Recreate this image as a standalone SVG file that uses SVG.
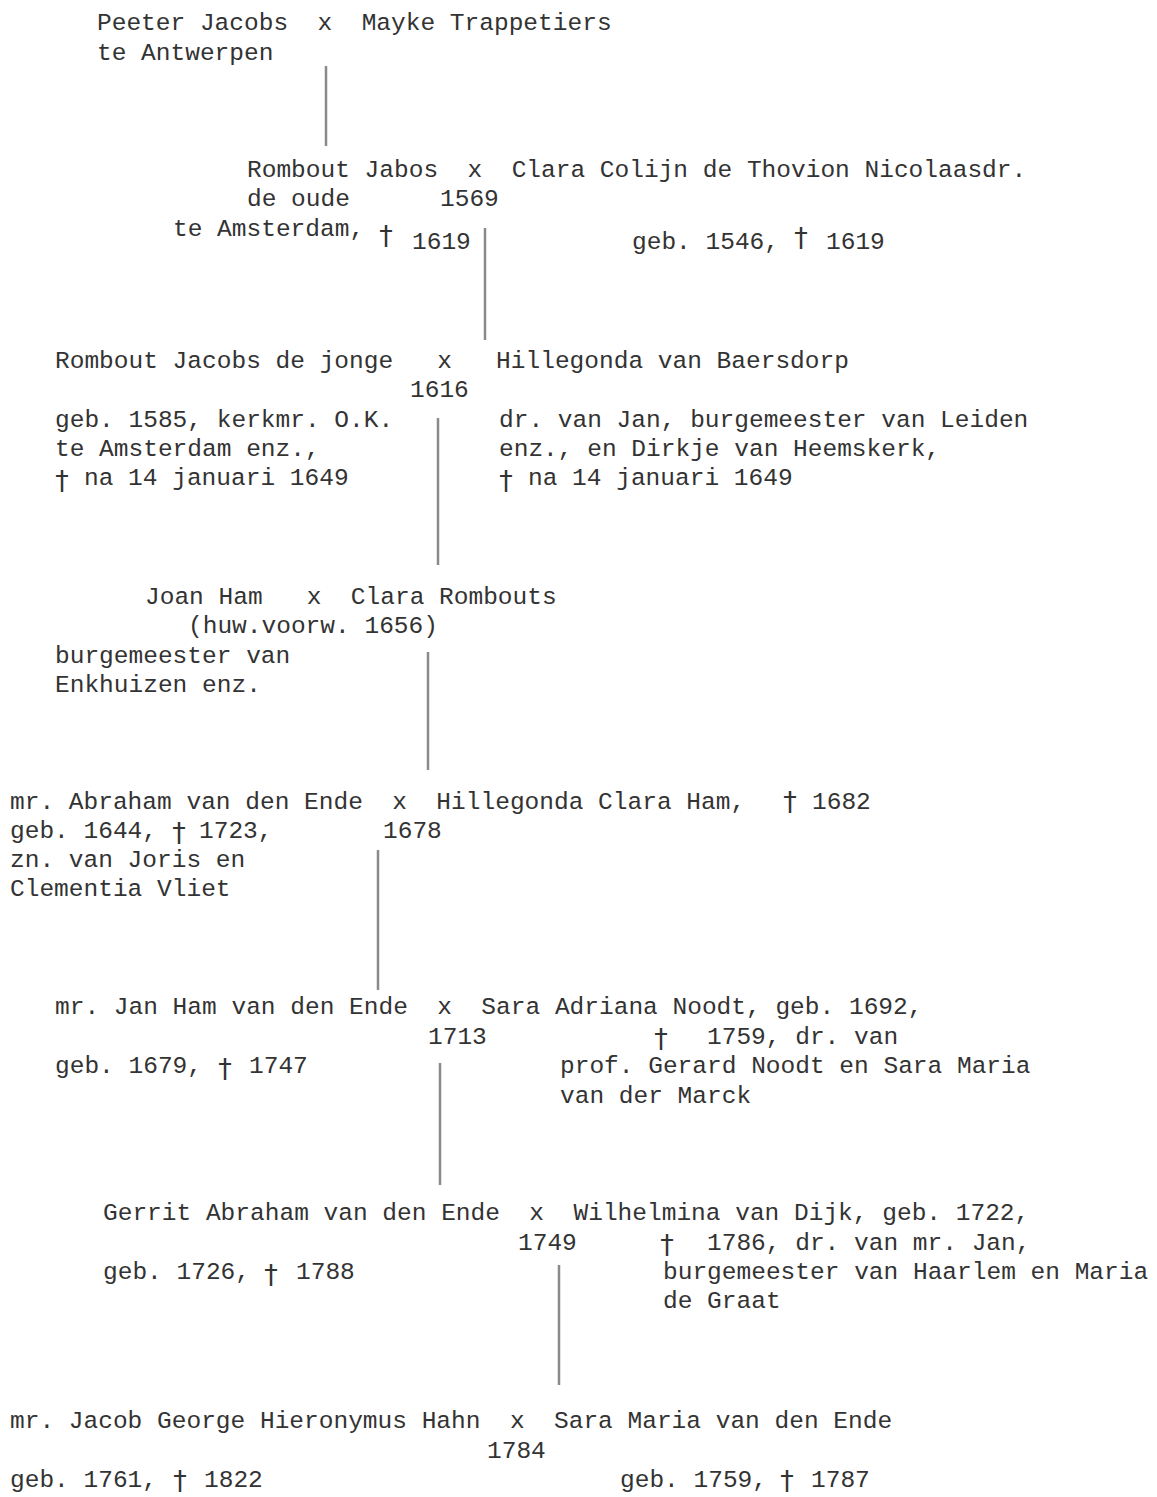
<svg xmlns="http://www.w3.org/2000/svg" width="1157" height="1497" viewBox="0 0 1157 1497" xml:space="preserve">
<style>
text { font-family: "Liberation Mono", "DejaVu Sans Mono", monospace; font-size: 24.5px; fill: #333333; white-space: pre; }
text.d { font-family: "DejaVu Sans", "Liberation Sans", sans-serif; font-size: 27px; text-anchor: middle; }
.conn line { stroke: #8a8a8a; stroke-width: 2.5; }
</style>
<rect width="1157" height="1497" fill="#ffffff"/>
<g class="conn" id="connectors">
<line x1="326" y1="66" x2="326" y2="146"/>
<line x1="485" y1="228" x2="485" y2="340"/>
<line x1="438" y1="418" x2="438" y2="565"/>
<line x1="428" y1="652" x2="428" y2="770"/>
<line x1="378" y1="850" x2="378" y2="990"/>
<line x1="440" y1="1063" x2="440" y2="1185"/>
<line x1="559" y1="1265" x2="559" y2="1385"/>
</g>
<g id="n1">
<text x="97" y="30">Peeter Jacobs  x  Mayke Trappetiers</text>
<text x="97" y="60">te Antwerpen</text>
</g>
<g id="n2">
<text x="247" y="177">Rombout Jabos  x  Clara Colijn de Thovion Nicolaasdr.</text>
<text x="247" y="206">de oude</text>
<text x="440" y="206">1569</text>
<text x="173" y="236">te Amsterdam,</text>
<text class="d" x="386" y="245">†</text>
<text x="412" y="249">1619</text>
<text x="632" y="249">geb. 1546,</text>
<text class="d" x="801" y="247">†</text>
<text x="826" y="249">1619</text>
</g>
<g id="n3">
<text x="55" y="368">Rombout Jacobs de jonge   x   Hillegonda van Baersdorp</text>
<text x="410" y="397">1616</text>
<text x="55" y="427">geb. 1585, kerkmr. O.K.</text>
<text x="55" y="456">te Amsterdam enz.,</text>
<text class="d" x="62" y="490">†</text>
<text x="84" y="485">na 14 januari 1649</text>
<text x="499" y="427">dr. van Jan, burgemeester van Leiden</text>
<text x="499" y="456">enz., en Dirkje van Heemskerk,</text>
<text class="d" x="506" y="490">†</text>
<text x="528" y="485">na 14 januari 1649</text>
</g>
<g id="n4">
<text x="145" y="604">Joan Ham   x  Clara Rombouts</text>
<text x="188" y="633">(huw.voorw. 1656)</text>
<text x="55" y="663">burgemeester van</text>
<text x="55" y="692">Enkhuizen enz.</text>
</g>
<g id="n5">
<text x="10" y="809">mr. Abraham van den Ende  x  Hillegonda Clara Ham,</text>
<text class="d" x="790" y="811">†</text>
<text x="812" y="809">1682</text>
<text x="10" y="838">geb. 1644,</text>
<text class="d" x="179" y="842">†</text>
<text x="199" y="838">1723,</text>
<text x="383" y="838">1678</text>
<text x="10" y="867">zn. van Joris en</text>
<text x="10" y="896">Clementia Vliet</text>
</g>
<g id="n6">
<text x="55" y="1014">mr. Jan Ham van den Ende  x  Sara Adriana Noodt, geb. 1692,</text>
<text x="428" y="1044">1713</text>
<text class="d" x="661" y="1048">†</text>
<text x="707" y="1044">1759, dr. van</text>
<text x="55" y="1073">geb. 1679,</text>
<text class="d" x="225" y="1078">†</text>
<text x="249" y="1073">1747</text>
<text x="560" y="1073">prof. Gerard Noodt en Sara Maria</text>
<text x="560" y="1103">van der Marck</text>
</g>
<g id="n7">
<text x="103" y="1220">Gerrit Abraham van den Ende  x  Wilhelmina van Dijk, geb. 1722,</text>
<text x="518" y="1250">1749</text>
<text class="d" x="667" y="1254">†</text>
<text x="707" y="1250">1786, dr. van mr. Jan,</text>
<text x="103" y="1279">geb. 1726,</text>
<text class="d" x="271" y="1284">†</text>
<text x="296" y="1279">1788</text>
<text x="663" y="1279">burgemeester van Haarlem en Maria</text>
<text x="663" y="1308">de Graat</text>
</g>
<g id="n8">
<text x="10" y="1428">mr. Jacob George Hieronymus Hahn  x  Sara Maria van den Ende</text>
<text x="487" y="1458">1784</text>
<text x="10" y="1487">geb. 1761,</text>
<text class="d" x="180" y="1490">†</text>
<text x="204" y="1487">1822</text>
<text x="620" y="1487">geb. 1759,</text>
<text class="d" x="787" y="1490">†</text>
<text x="811" y="1487">1787</text>
</g>
</svg>
